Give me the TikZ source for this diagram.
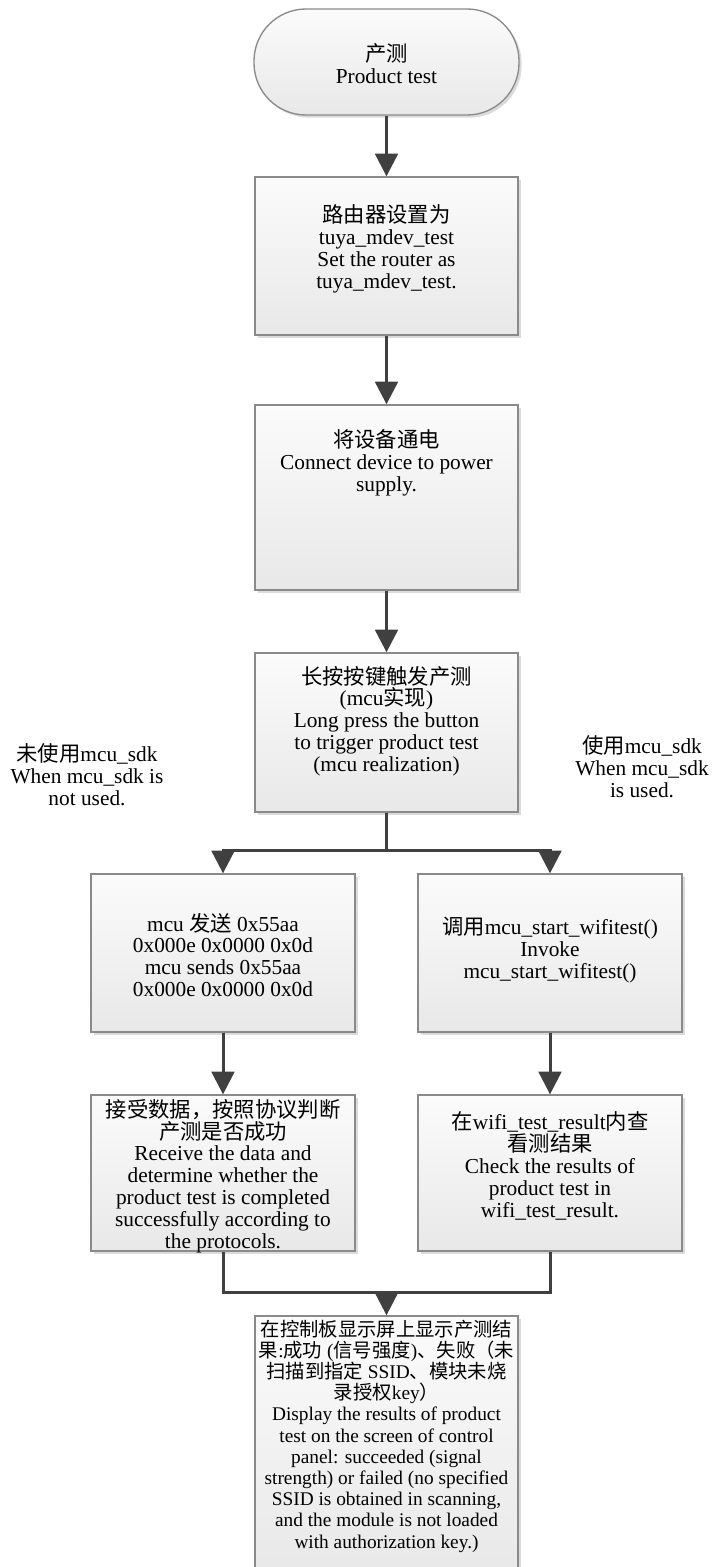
\documentclass[tikz,border=0pt]{standalone}
\usepackage{fontspec}
\setmainfont{Liberation Serif}
\newfontfamily\cjk{Noto Sans CJK SC}
\usetikzlibrary{arrows.meta,shadows}
\definecolor{arrowc}{HTML}{404040}
\definecolor{boxborder}{HTML}{8A8A8A}
\newcommand{\bodyfont}{\fontsize{16}{16.4}\selectfont\lineskiplimit=-20pt\relax}
\newcommand{\smallbody}{\fontsize{14.5}{15.9}\selectfont\lineskiplimit=-20pt\relax}
\begin{document}
\begin{tikzpicture}[x=0.75pt,y=-0.75pt,
  boxstyle/.style={draw=boxborder, line width=1pt, top color=gray!3, bottom color=gray!18,
    drop shadow={shadow xshift=2pt, shadow yshift=-2pt, fill=black!35, opacity=0.4}, inner sep=0pt},
  txt/.style={align=center, font=\bodyfont, inner sep=0pt, text=black},
  conn/.style={draw=arrowc, line width=2.25pt},
  arr/.style={conn, -{Triangle[length=17pt,width=17pt]}},
]
\useasboundingbox (0,0) rectangle (713,1567);
\fill[white] (0,0) rectangle (713,1567);

% boxes
\node[boxstyle, rounded corners=39pt, minimum width=198.75pt, minimum height=79.5pt] (start) at (386.5,62) {};
\node[boxstyle, minimum width=197.25pt, minimum height=118.5pt] (b1) at (386.5,256) {};
\node[boxstyle, minimum width=197.25pt, minimum height=138.75pt] (b2) at (386.5,497.5) {};
\node[boxstyle, minimum width=197.25pt, minimum height=119.25pt] (b3) at (386.5,732.5) {};
\node[boxstyle, minimum width=198pt, minimum height=118.5pt] (L1) at (223,953) {};
\node[boxstyle, minimum width=198pt, minimum height=118.5pt] (R1) at (550,953) {};
\node[boxstyle, minimum width=198pt, minimum height=117pt] (L2) at (223,1173) {};
\node[boxstyle, minimum width=198pt, minimum height=117pt] (R2) at (550,1173) {};
\node[boxstyle, minimum width=197.25pt, minimum height=194.25pt] (bot) at (386.5,1445.5) {};

% texts
\node[txt] (startT) at (386.5,64) {{\cjk 产测}\\Product test};
\node[txt] (b1T) at (386.5,249) {{\cjk 路由器设置为}\\tuya\_mdev\_test\\Set the router as\\tuya\_mdev\_test.};
\node[txt] (b2T) at (386.5,463) {{\cjk 将设备通电}\\Connect device to power\\supply.};
\node[txt] (b3T) at (386.5,721) {{\cjk 长按按键触发产测}\\(mcu{\cjk 实现})\\Long press the button\\to trigger product test\\(mcu realization)};
\node[txt] (L1T) at (223,955) {mcu {\cjk 发送} 0x55aa\\0x000e 0x0000 0x0d\\mcu sends 0x55aa\\0x000e 0x0000 0x0d};
\node[txt] (R1T) at (550,950) {{\cjk 调用}mcu\_start\_wifitest()\\Invoke\\mcu\_start\_wifitest()};
\node[txt] (L2T) at (223,1176) {{\cjk 接受数据，按照协议判断}\\{\cjk 产测是否成功}\\Receive the data and\\determine whether the\\product test is completed\\successfully according to\\the protocols.};
\node[txt] (R2T) at (550,1166) {{\cjk 在}wifi\_test\_result{\cjk 内查}\\{\cjk 看测结果}\\Check the results of\\product test in\\wifi\_test\_result.};
\node[txt, font=\smallbody] (botT) at (386.5,1436) {{\cjk 在控制板显示屏上显示产测结}\\{\cjk 果}:{\cjk 成功} ({\cjk 信号强度}){\cjk 、失败（未}\\{\cjk 扫描到指定} SSID{\cjk 、模块未烧}\\{\cjk 录授权}key{\cjk ）}\\Display the results of product\\test on the screen of control\\panel: succeeded (signal\\strength) or failed (no specified\\SSID is obtained in scanning,\\and the module is not loaded\\with authorization key.)};

% side labels
\node[txt] (lblL) at (87,775) {{\cjk 未使用}mcu\_sdk\\When mcu\_sdk is\\not used.};
\node[txt] (lblR) at (642,767) {{\cjk 使用}mcu\_sdk\\When mcu\_sdk\\is used.};

% connectors
\draw[arr] (start.south) -- (b1.north);
\draw[arr] (b1.south) -- (b2.north);
\draw[arr] (b2.south) -- (b3.north);
\coordinate (split) at (386.5,850);
\draw[conn] (b3.south) -- (split);
\draw[arr] (split) -| (L1.north);
\draw[arr] (split) -| (R1.north);
\draw[arr] (L1.south) -- (L2.north);
\draw[arr] (R1.south) -- (R2.north);
\coordinate (merge) at (386.5,1292);
\draw[conn] (L2.south) |- (merge) -| (R2.south);
\draw[arr] (merge) -- (bot.north);
\end{tikzpicture}
\end{document}
